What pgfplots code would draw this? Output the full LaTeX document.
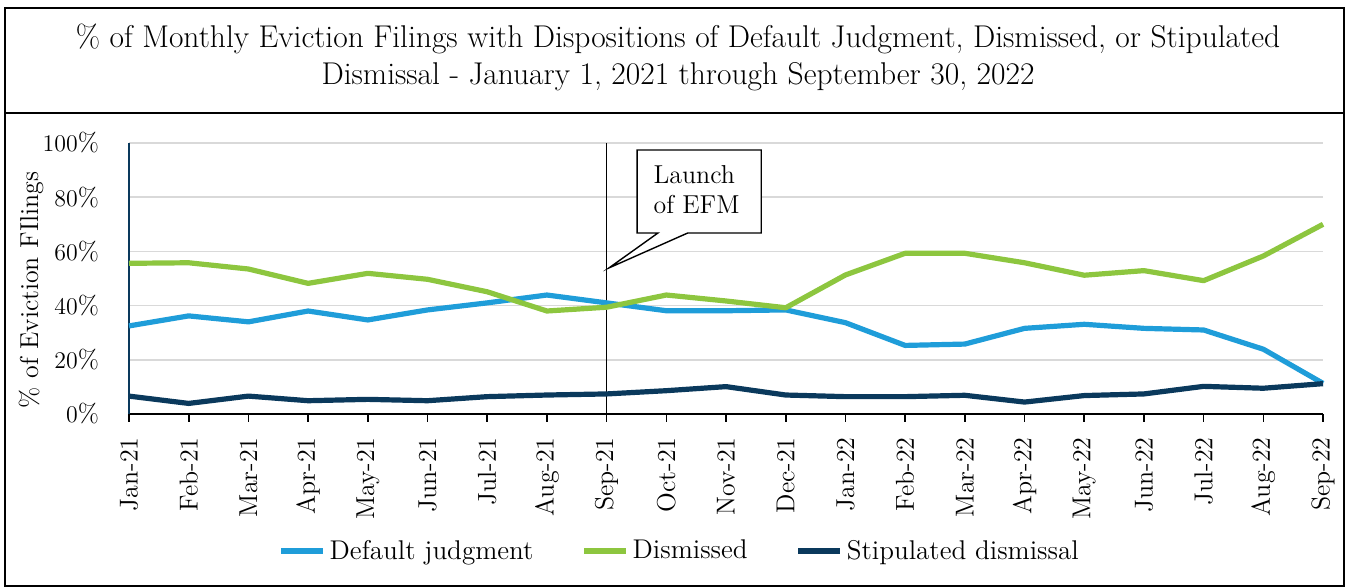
\documentclass[border=0pt]{standalone}
\usepackage{pgfplots}
\pgfplotsset{compat=1.18}
\definecolor{cblue}{RGB}{31,157,217}
\definecolor{cgreen}{RGB}{141,198,63}
\definecolor{cnavy}{RGB}{10,57,92}
\begin{document}
\begin{tikzpicture}[x=0.5bp,y=0.5bp]
\useasboundingbox (0,0) rectangle (1349,587);
\draw[line width=1.2bp] (5,579) rectangle (1344,1);
\draw[line width=1.2bp] (5,474) -- (1344,474);
\node[font=\fontsize{15.8}{18.5}\selectfont, align=center] at (678,530) {\% of Monthly Eviction Filings with Dispositions of Default Judgment, Dismissed, or Stipulated\\Dismissal - January 1, 2021 through September 30, 2022};
\node[rotate=90, font=\fontsize{13}{13}\selectfont] at (31,297) {\% of Eviction FIlings};
\begin{axis}[
  at={(64.5bp,86.5bp)}, anchor=south west, scale only axis,
  width=597bp, height=135.5bp,
  xmin=0, xmax=20, ymin=0, ymax=100,
  clip=false,
  axis x line=bottom, axis y line=left,
  axis line style={-},
  x axis line style={black, line width=0.9bp},
  y axis line style={cnavy, line width=0.6bp},
  xtick={0,...,20},
  xticklabels={Jan-21,Feb-21,Mar-21,Apr-21,May-21,Jun-21,Jul-21,Aug-21,Sep-21,Oct-21,Nov-21,Dec-21,Jan-22,Feb-22,Mar-22,Apr-22,May-22,Jun-22,Jul-22,Aug-22,Sep-22},
  x tick label style={rotate=90, anchor=east, inner xsep=7.5bp, font=\fontsize{13}{13}\selectfont},
  xtick align=outside,
  x tick style={black, line width=0.8bp},
  major tick length=4bp,
  ytick={0,20,...,100},
  yticklabel={\pgfmathprintnumber{\tick}\%},
  y tick label style={xshift=-9.5bp, font=\fontsize{13}{13}\selectfont},
  y tick style={draw=none},
  ymajorgrids, grid style={black!15, line width=0.8bp},
  legend style={at={(0.462,-0.5055)}, anchor=center, draw=none, fill=none,
     legend columns=3, font=\fontsize{13.6}{13.6}\selectfont,
     /tikz/every even column/.append style={column sep=22bp}},
  legend image code/.code={\draw[#1] (0bp,0bp) -- (21bp,0bp);},
  every axis plot/.append style={line width=2.6bp, line join=round},
]
\draw[black, line width=0.5bp] (axis cs:8,0) -- (axis cs:8,100);
\addplot[cblue] coordinates {(0,32.5)(1,36.2)(2,34)(3,38)(4,34.7)(5,38.4)(6,41)(7,43.9)(8,41)(9,38.1)(10,38.1)(11,38.4)(12,33.7)(13,25.3)(14,25.8)(15,31.6)(16,33.1)(17,31.6)(18,31)(19,23.9)(20,11.3)};
\addlegendentry{Default judgment}
\addplot[cgreen] coordinates {(0,55.6)(1,55.8)(2,53.5)(3,48.2)(4,51.9)(5,49.7)(6,45.1)(7,38)(8,39.4)(9,43.9)(10,41.7)(11,39.2)(12,51.3)(13,59.3)(14,59.3)(15,55.8)(16,51.2)(17,52.9)(18,49.2)(19,58.3)(20,70)};
\addlegendentry{Dismissed}
\addplot[cnavy] coordinates {(0,6.6)(1,3.9)(2,6.6)(3,4.9)(4,5.4)(5,4.9)(6,6.4)(7,7.0)(8,7.4)(9,8.6)(10,10.1)(11,7.0)(12,6.4)(13,6.4)(14,6.9)(15,4.4)(16,6.8)(17,7.4)(18,10.2)(19,9.5)(20,11.2)};
\addlegendentry{Stipulated dismissal}
\draw[black, line width=0.7bp, fill=white] (axis cs:8.51,97.4) -- (axis cs:10.59,97.4) -- (axis cs:10.59,66.8) -- (axis cs:9.36,66.8) -- (axis cs:8.04,53.9) -- (axis cs:8.86,66.8) -- (axis cs:8.51,66.8) -- cycle;
\node[anchor=west, align=left, font=\fontsize{13}{15}\selectfont, inner sep=0pt] at (axis cs:8.78,82.7) {Launch\\of EFM};
\end{axis}
\end{tikzpicture}
\end{document}
